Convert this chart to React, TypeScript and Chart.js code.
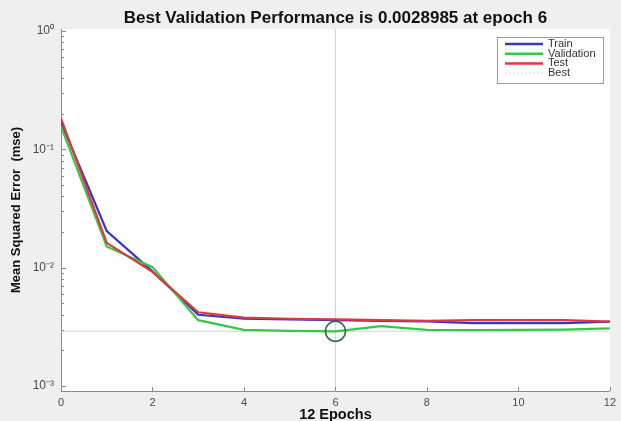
import React, { useEffect, useRef } from "react";
import { Chart, registerables } from "chart.js";
Chart.register(...registerables);

const epochs = [0, 1, 2, 3, 4, 5, 6, 7, 8, 9, 10, 11, 12];
const trainPerf = [0.17, 0.0204, 0.0093, 0.0040, 0.0037, 0.00365, 0.0036, 0.00355, 0.00352, 0.0034, 0.0034, 0.0034, 0.0035];
const validationPerf = [0.156, 0.0151, 0.0101, 0.0036, 0.00298, 0.00292, 0.0028985, 0.0032, 0.00298, 0.00297, 0.00298, 0.003, 0.00307];
const testPerf = [0.183, 0.0162, 0.0092, 0.0042, 0.00378, 0.0037, 0.00365, 0.0036, 0.00355, 0.0036, 0.0036, 0.0036, 0.0035];
const bestEpoch = 6;
const bestPerf = 0.0028985;
const yTickValues = [0.001, 0.01, 0.1, 1];
const yTickLabels = ["10⁻³", "10⁻²", "10⁻¹", "10⁰"];
const xTickValues = [0, 2, 4, 6, 8, 10, 12];
const seriesLabels = ["Train", "Validation", "Test", "Best"];
const titleText = "Best Validation Performance is 0.0028985 at epoch 6";
const xLabel = "12 Epochs";
const yLabel = "Mean Squared Error  (mse)";
const Y_MIN = 0.000907;
const Y_MAX = 1.04;

const COLORS = ["#3434d2", "#34c846", "#e03838", "#d4d4d4"];
const FONT = "'Liberation Sans', Arial, Helvetica, sans-serif";

const decorPlugin = {
  id: "decor",
  beforeDraw(chart: any) {
    const { ctx, chartArea: a, width, height } = chart;
    ctx.save();
    ctx.fillStyle = "#efefef";
    ctx.fillRect(0, 0, width, height);
    ctx.fillStyle = "#ffffff";
    ctx.fillRect(a.left, a.top, a.right - a.left, a.bottom - a.top);
    ctx.restore();
  },
  afterDraw(chart: any) {
    const { ctx, chartArea: a } = chart;
    const xs = chart.scales.x;
    const ys = chart.scales.y;
    ctx.save();
    // inner ticks
    ctx.strokeStyle = "#8a8a8a";
    ctx.lineWidth = 1;
    ctx.beginPath();
    for (let d = -3; d <= 0; d++) {
      for (let m = 1; m <= 9; m++) {
        const v = m * Math.pow(10, d);
        if (v < Y_MIN || v > Y_MAX) continue;
        const py = Math.round(ys.getPixelForValue(v)) + 0.5;
        const len = m === 1 ? 5 : 3;
        ctx.moveTo(a.left, py);
        ctx.lineTo(a.left + len, py);
      }
    }
    for (const v of xTickValues) {
      const px = Math.round(xs.getPixelForValue(v)) + 0.5;
      ctx.moveTo(px, a.bottom);
      ctx.lineTo(px, a.bottom - 4);
    }
    ctx.stroke();

    // title
    ctx.fillStyle = "#111";
    ctx.font = `bold 17px ${FONT}`;
    ctx.textAlign = "center";
    ctx.textBaseline = "middle";
    ctx.fillText(titleText, (a.left + a.right) / 2, 18);

    // legend
    const bx = 497, by = 37, bw = 106, bh = 46;
    ctx.fillStyle = "#fff";
    ctx.fillRect(bx, by, bw, bh);
    ctx.strokeStyle = "#9a9a9a";
    ctx.strokeRect(bx + 0.5, by + 0.5, bw, bh);
    ctx.font = `11px ${FONT}`;
    ctx.textAlign = "left";
    seriesLabels.forEach((lab, i) => {
      const y = by + 7 + i * 9.7;
      ctx.strokeStyle = COLORS[i];
      ctx.lineWidth = i === 3 ? 1 : 2.5;
      ctx.setLineDash(i === 3 ? [2, 2] : []);
      ctx.beginPath();
      ctx.moveTo(bx + 8, y);
      ctx.lineTo(bx + 46, y);
      ctx.stroke();
      ctx.setLineDash([]);
      ctx.fillStyle = "#333";
      ctx.fillText(lab, bx + 51, y);
    });
    ctx.restore();
  },
};

export default function App() {
  const ref = useRef<HTMLCanvasElement>(null);
  useEffect(() => {
    document.body.style.margin = "0";
    const pts = (arr: number[]) => epochs.map((e, i) => ({ x: e, y: arr[i] }));
    const chart = new Chart(ref.current as HTMLCanvasElement, {
      type: "line",
      data: {
        datasets: [
          {
            label: seriesLabels[3],
            data: [
              { x: epochs[0], y: bestPerf },
              { x: epochs[epochs.length - 1], y: bestPerf },
              { x: bestEpoch, y: null as any },
              { x: bestEpoch, y: Y_MIN },
              { x: bestEpoch, y: Y_MAX },
            ],
            borderColor: COLORS[3],
            borderWidth: 1,
            pointRadius: 0,
            spanGaps: false,
            order: 5,
          },
          { label: seriesLabels[0], data: pts(trainPerf), borderColor: COLORS[0], borderWidth: 2.2, pointRadius: 0, order: 3 },
          { label: seriesLabels[1], data: pts(validationPerf), borderColor: COLORS[1], borderWidth: 2.2, pointRadius: 0, order: 2 },
          { label: seriesLabels[2], data: pts(testPerf), borderColor: COLORS[2], borderWidth: 2.2, pointRadius: 0, order: 1 },
          {
            label: "best point",
            data: [{ x: bestEpoch, y: bestPerf }],
            borderColor: "#23753a",
            backgroundColor: "rgba(0,0,0,0)",
            borderWidth: 1.6,
            pointRadius: 10,
            showLine: false,
            order: 0,
          },
        ],
      },
      options: {
        animation: false,
        responsive: false,
        devicePixelRatio: 1,
        layout: { autoPadding: false, padding: { top: 29, right: 5, left: 0, bottom: 0 } },
        plugins: { legend: { display: false }, tooltip: { enabled: false }, title: { display: false } },
        scales: {
          x: {
            type: "linear",
            min: 0,
            max: 12,
            afterBuildTicks: (s: any) => {
              s.ticks = xTickValues.map((v) => ({ value: v }));
            },
            afterFit: (s: any) => {
              s.height = 30;
            },
            grid: { display: true, drawOnChartArea: false, drawTicks: false },
            border: { display: true, color: "#8a8a8a", width: 1 },
            ticks: { color: "#4a4a4a", font: { family: FONT, size: 11 }, padding: 5, maxRotation: 0 },
            title: { display: true, text: xLabel, color: "#111", font: { family: FONT, size: 14.5, weight: "bold" }, padding: { top: 0, bottom: -3 } },
          },
          y: {
            type: "logarithmic",
            min: Y_MIN,
            max: Y_MAX,
            afterBuildTicks: (s: any) => {
              s.ticks = yTickValues.map((v) => ({ value: v }));
            },
            afterFit: (s: any) => {
              s.width = 61;
            },
            grid: { display: true, drawOnChartArea: false, drawTicks: false },
            border: { display: true, color: "#8a8a8a", width: 1 },
            ticks: {
              color: "#4a4a4a",
              font: { family: FONT, size: 12 },
              padding: 7,
              callback: (_v: any, i: number) => yTickLabels[i],
            },
            title: { display: true, text: yLabel, color: "#111", font: { family: FONT, size: 13, weight: "bold" }, padding: { top: 9, bottom: 0 } },
          },
        },
      } as any,
      plugins: [decorPlugin],
    });
    return () => chart.destroy();
  }, []);
  return (
    <div style={{ width: 621, height: 421 }}>
      <canvas ref={ref} width={621} height={421} />
    </div>
  );
}
